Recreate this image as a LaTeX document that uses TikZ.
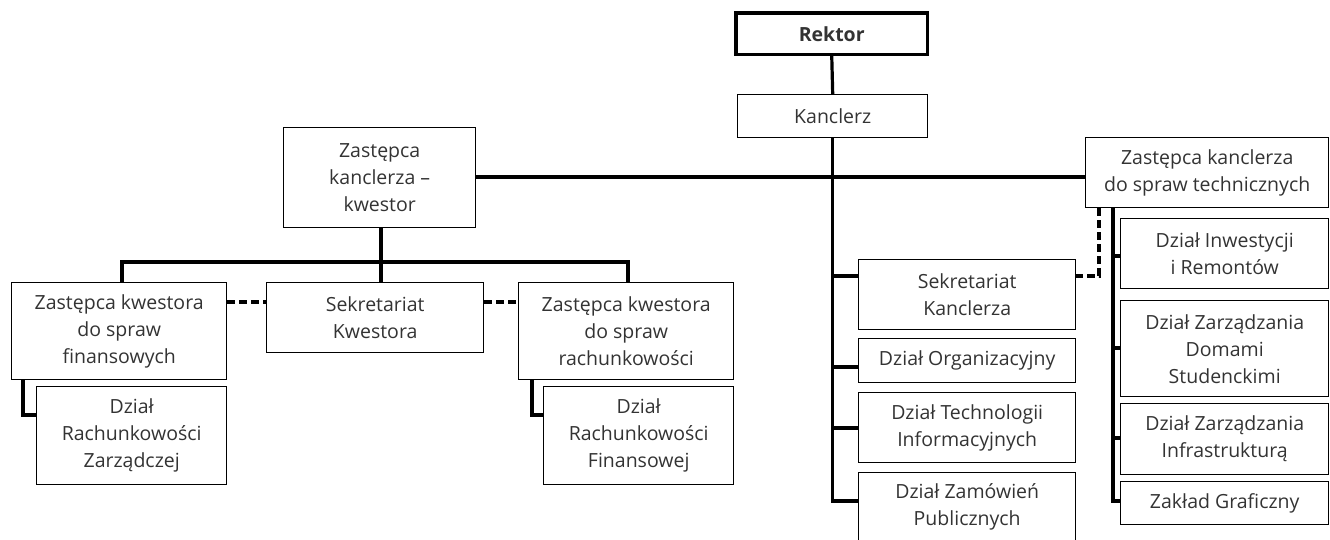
\documentclass[tikz,border=0pt]{standalone}
\usepackage{fontspec}
\setmainfont{Open Sans}
\usetikzlibrary{calc}
\definecolor{txt}{gray}{0.2}
\newcommand\obox[6]{\node[box, minimum width={(#4-#2)*1pt}, minimum height={(#5-#3)*1pt}] (#1) at (#2,#3) {#6};}
\begin{document}
\begin{tikzpicture}[x=1pt,y=-1pt,
  box/.style={draw, line width=1.4pt, align=center, inner sep=0pt, anchor=north west, text=txt, font=\fontsize{19.5}{27}\selectfont},
  conn/.style={line width=3.2pt},
  dconn/.style={line width=3.2pt, dash pattern=on 8pt off 4pt}]
\useasboundingbox (0,0) rectangle (1330,540);
\clip (0,0) rectangle (1330,540);
% boxes
\obox{rektor}{736}{13}{926}{53}{\textbf{Rektor}}
\obox{kanclerz}{737}{94}{927}{137}{Kanclerz}
\obox{kwestor}{283}{127}{475}{227}{Zastępca\\kanclerza –\\kwestor}
\obox{techn}{1085}{137}{1328}{207}{Zastępca kanclerza\\do spraw technicznych}
\obox{zfin}{11}{282}{226}{379}{Zastępca kwestora\\do spraw\\finansowych}
\obox{sekkw}{266}{282}{483}{352}{Sekretariat\\Kwestora}
\obox{zrach}{518}{282}{733}{379}{Zastępca kwestora\\do spraw\\rachunkowości}
\obox{drz}{36}{386}{226}{484}{Dział\\Rachunkowości\\Zarządczej}
\obox{drf}{543}{386}{733}{484}{Dział\\Rachunkowości\\Finansowej}
\obox{sekkan}{858}{259}{1075}{329}{Sekretariat\\Kanclerza}
\obox{dorg}{858}{338}{1075}{382}{Dział Organizacyjny}
\obox{dtech}{858}{392}{1075}{462}{Dział Technologii\\Informacyjnych}
\obox{dzam}{858}{472}{1075}{541}{Dział Zamówień\\Publicznych}
\obox{dinw}{1120}{218}{1328}{288}{Dział Inwestycji\\i Remontów}
\obox{ddom}{1120}{300}{1328}{396}{Dział Zarządzania\\Domami\\Studenckimi}
\obox{dinf}{1120}{403}{1328}{474}{Dział Zarządzania\\Infrastrukturą}
\obox{dzak}{1120}{481}{1328}{524}{Zakład Graficzny}
% levels
\coordinate (yK) at (0,177);
\coordinate (yA) at (0,276);
\coordinate (yB) at (0,367);
\coordinate (yC) at (0,428);
\coordinate (yD) at (0,501);
\coordinate (yE) at (0,256);
\coordinate (yF) at (0,348);
\coordinate (yG) at (0,438);
\coordinate (yH) at (0,262);
\coordinate (yI) at (0,302);
\coordinate (yJ) at (0,415);
\coordinate (xT) at (1113,0);
\coordinate (xD) at (1099,0);
\coordinate (xK) at (381,0);
\coordinate (xB1) at (122,0);
\coordinate (xB2) at (628,0);
\coordinate (xL1) at (23,0);
\coordinate (xL2) at (532,0);
% connectors
\draw[conn] (rektor.south) -- (kanclerz.north);
\draw[conn] (kanclerz.south) |- (dzam.west |- yD);
\draw[conn] (kanclerz.south |- yA) -- (sekkan.west |- yA);
\draw[conn] (kanclerz.south |- yB) -- (dorg.west |- yB);
\draw[conn] (kanclerz.south |- yC) -- (dtech.west |- yC);
\draw[conn] (kwestor.east |- yK) -- (techn.west |- yK);
\draw[conn] (techn.south -| xT) |- (dzak.west |- yD);
\draw[conn] (xT |- yE) -- (dinw.west |- yE);
\draw[conn] (xT |- yF) -- (ddom.west |- yF);
\draw[conn] (xT |- yG) -- (dinf.west |- yG);
\draw[dconn] (techn.south -| xD) |- (sekkan.east |- yA);
\draw[conn] (kwestor.south -| xK) -- (sekkw.north -| xK);
\draw[conn] (zfin.north -| xB1) -- (xB1 |- yH) -- (xB2 |- yH) -- (zrach.north -| xB2);
\draw[dconn] (zfin.east |- yI) -- (sekkw.west |- yI);
\draw[dconn] (sekkw.east |- yI) -- (zrach.west |- yI);
\draw[conn] (zfin.south -| xL1) |- (drz.west |- yJ);
\draw[conn] (zrach.south -| xL2) |- (drf.west |- yJ);
\draw[line width=3.4pt] (rektor.north west) rectangle (rektor.south east);
\end{tikzpicture}
\end{document}
